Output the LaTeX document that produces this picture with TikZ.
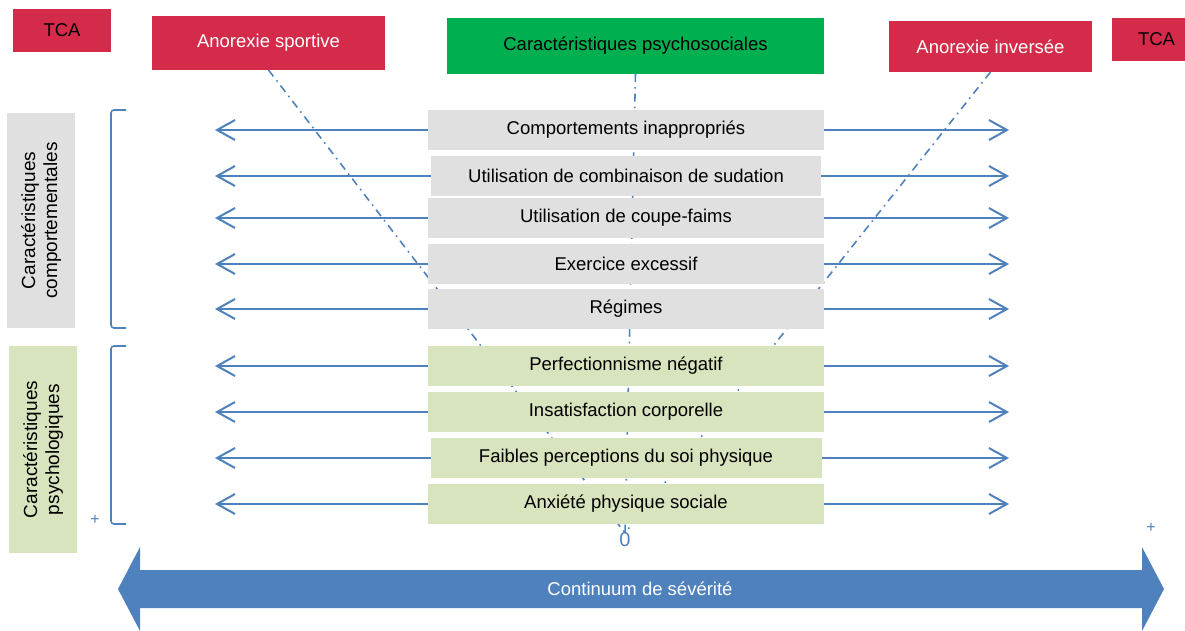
\documentclass[tikz,border=0pt]{standalone}
\usepackage{fontspec}
\setmainfont{Liberation Sans}
\usetikzlibrary{arrows.meta,positioning,backgrounds}
\definecolor{tcared}{RGB}{212,43,74}
\definecolor{psygreen}{RGB}{0,176,80}
\definecolor{behgrey}{RGB}{224,224,224}
\definecolor{psylight}{RGB}{215,228,189}
\definecolor{lineblue}{RGB}{79,129,189}

\begin{document}
\begin{tikzpicture}[x=1pt,y=-1pt,auto]
	\tikzstyle{every node} = [inner sep=0pt, outer sep=0pt, font=\fontsize{18.5}{21}\selectfont]
	\tikzstyle{tag} = [rectangle, fill=tcared, minimum height=43]
	\tikzstyle{head} = [rectangle, fill=tcared, text=white]
	\tikzstyle{item} = [rectangle, minimum width=396, minimum height=40]
	\tikzstyle{side} = [rectangle, rotate=90, minimum height=68, align=center, font=\fontsize{19}{22}\selectfont]
	\tikzstyle{both} = [draw=lineblue, line width=2pt, -{Straight Barb[length=18pt,width=20pt,line width=2pt]}]
	\tikzstyle{dashdot} = [draw=lineblue, line width=1.6pt, dash pattern=on 8pt off 5pt on 1.6pt off 5pt]
	\tikzstyle{bracket} = [draw=lineblue, line width=1.6pt, rounded corners=3pt]
	\tikzstyle{sign} = [text=lineblue, font=\fontsize{16}{18}\selectfont]

	\useasboundingbox (0,0) rectangle (1185,630);

	% headers
	\node[tag] (tca left) at (62,30.5) [minimum width=98] {TCA};
	\node[head] (sport) at (268.5,43) [minimum width=233, minimum height=54] {Anorexie sportive};
	\node[rectangle, fill=psygreen] (psycho) at (635.5,46) [minimum width=377, minimum height=56] {Caractéristiques psychosociales};
	\node[head] (invers) at (990.5,46.5) [minimum width=203, minimum height=51] {Anorexie inversée};
	\node[tag] (tca right) at (1148.5,39.5) [minimum width=73, text width=53, align=right] {TCA};

	% stacked characteristics
	\node[item, fill=behgrey] (r1) at (626,130) {Comportements inappropriés};
	\node[item, fill=behgrey, minimum width=390, below=6pt of r1] (r2) {Utilisation de combinaison de sudation};
	\node[item, fill=behgrey, below=2pt of r2] (r3) {Utilisation de coupe-faims};
	\node[item, fill=behgrey, below=6pt of r3] (r4) {Exercice excessif};
	\node[item, fill=behgrey, below=5pt of r4] (r5) {Régimes};
	\node[item, fill=psylight, below=17pt of r5] (r6) {Perfectionnisme négatif};
	\node[item, fill=psylight, below=6pt of r6] (r7) {Insatisfaction corporelle};
	\node[item, fill=psylight, minimum width=391, below=6pt of r7] (r8) {Faibles perceptions du soi physique};
	\node[item, fill=psylight, below=6pt of r8] (r9) {Anxiété physique sociale};

	% side labels
	\node[side, fill=behgrey, minimum width=215] (behav) at (41,220.5) {Caractéristiques\\comportementales};
	\node[side, fill=psylight, minimum width=207] (psych) at (43,449.5) {Caractéristiques\\psychologiques};

	\node[sign] (plus left) at (95,520) {+};
	\node[sign] (plus right) at (1151,528) {+};
	\node[text=lineblue, font=\fontsize{20}{22}\selectfont] (zero) at (625,540) {0};

	%arrows to both ends
	\coordinate (lend) at (215,0);
	\coordinate (rend) at (1009,0);
	\foreach \i in {1,...,9}
	{
		\draw[both] (r\i.west) -- (r\i.west -| lend);
		\draw[both] (r\i.east) -- (r\i.east -| rend);
	}

	%brackets
	\path[bracket] (126,110) -- (111,110) -- (111,328) -- (126,328);
	\path[bracket] (126,346) -- (111,346) -- (111,524) -- (126,524);

	%lines meeting at zero
	\begin{scope}[on background layer]
		\path[dashdot] (sport.south) -- (zero.north);
		\path[dashdot] (psycho.south) -- (zero.north);
		\path[dashdot] (invers.south) -- (zero.north);
	\end{scope}

	%severity
	\fill[lineblue] (118,589) -- (140,547) -- (140,570) -- (1142,570) -- (1142,547) -- (1164,589)
		-- (1142,631) -- (1142,608) -- (140,608) -- (140,631) -- cycle;
	\node[text=white] (sever) at (640,589) {Continuum de sévérité};
\end{tikzpicture}
\end{document}
